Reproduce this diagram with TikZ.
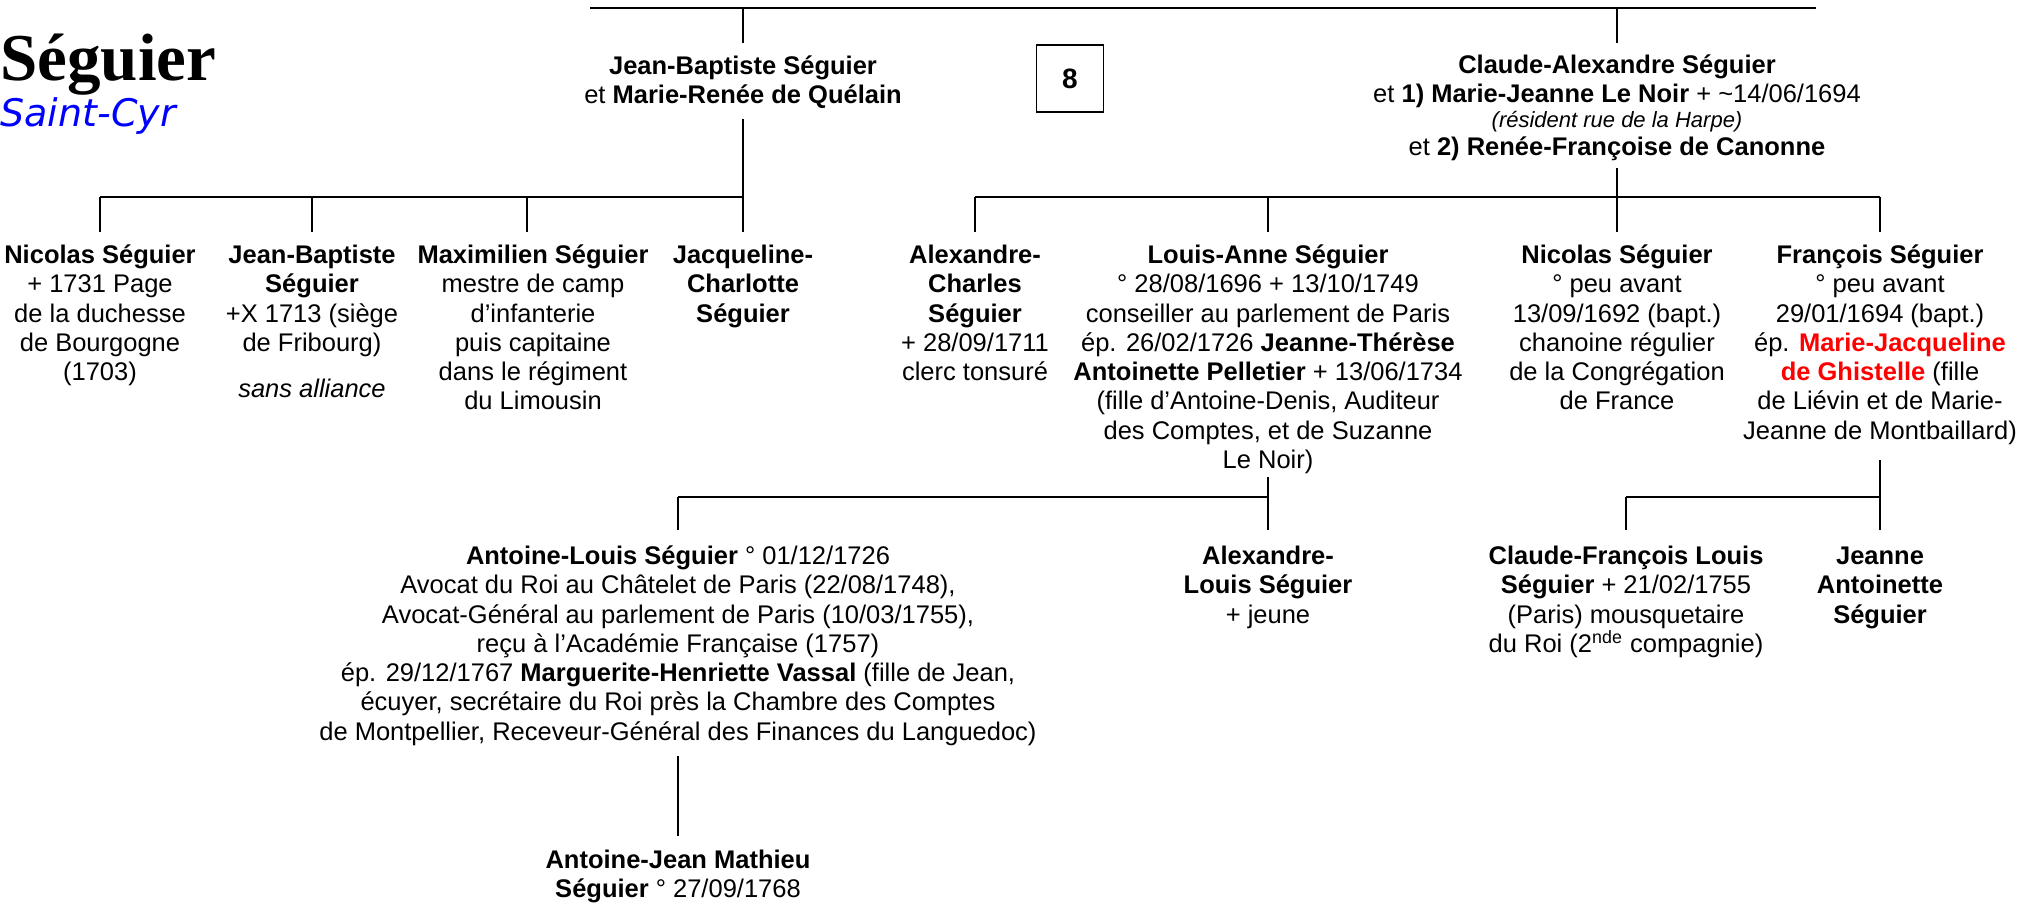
\documentclass[tikz,border=0pt]{standalone}
\usepackage{fontspec}
\setmainfont{Liberation Sans}
\newfontfamily\titlefont{Liberation Serif}
\newfontfamily\subfont{DejaVu Sans}
\newcommand\fl{\rule{0pt}{10pt}}
\begin{document}
\begin{tikzpicture}[x=0.5pt,y=-0.5pt,
  txt/.style={font=\fontsize{12.75}{14.65}\selectfont, align=center, inner sep=0pt, anchor=north},
  conn/.style={line width=1.2pt, black},
  numbox/.style={draw, line width=0.6pt, minimum width=33.5pt, minimum height=33.5pt, inner sep=0pt,
    font=\bfseries\fontsize{14}{14}\selectfont}]
\useasboundingbox (0,0) rectangle (2032,902);

% title
\node[anchor=base west, inner sep=0pt, font=\titlefont\bfseries\fontsize{33.5}{33.5}\selectfont] (title) at (0,80) {Séguier};
\node[anchor=base west, inner sep=0pt, font=\subfont\itshape\fontsize{19}{19}\selectfont, text=blue] (sub) at (0,126) {Saint-Cyr};

% levels
\coordinate (topL) at (590,8);
\coordinate (topR) at (1816,8);
\coordinate (t1) at (0,43);
\coordinate (p1) at (0,119);
\coordinate (p2) at (0,168);
\coordinate (b1) at (0,197);
\coordinate (c1) at (0,232);
\coordinate (q1) at (0,477);
\coordinate (q2) at (0,460);
\coordinate (b2) at (0,497);
\coordinate (c2) at (0,530);
\coordinate (r1) at (0,756);
\coordinate (r2) at (0,836);
\coordinate (A3v) at (527,0);

% parents
\node[txt] (JB) at (743,54) {\fl\textbf{Jean-Baptiste Séguier}\\ et \textbf{Marie-Renée de Quélain}};
\node[txt] (CA) at (1617,53) {\fl\textbf{Claude-Alexandre Séguier}\\
  et \textbf{1) Marie-Jeanne Le Noir} + \textasciitilde 14/06/1694\\[-2.15pt]
  {\fontsize{11}{12}\selectfont\itshape (résident rue de la Harpe)}\\[-0.65pt]
  et \textbf{2) Renée-Françoise de Canonne}};
\node[numbox] (N8) at (1070,78.5) {8};

% first generation, left
\node[txt] (A1) at (100,243) {\fl\textbf{Nicolas Séguier}\\ + 1731 Page\\ de la duchesse\\ de Bourgogne\\ (1703)};
\node[txt] (A2) at (312,243) {\fl\textbf{Jean-Baptiste}\\ \textbf{Séguier}\\ +X 1713 (siège\\ de Fribourg)\\[8.5pt] \textit{sans alliance}};
\node[txt] (A3) at (533,243) {\fl\textbf{Maximilien Séguier}\\ mestre de camp\\ d’infanterie\\ puis capitaine\\ dans le régiment\\ du Limousin};
\node[txt] (A4) at (743,243) {\fl\textbf{Jacqueline-}\\ \textbf{Charlotte}\\ \textbf{Séguier}};

% first generation, right
\node[txt] (B1) at (975,243) {\fl\textbf{Alexandre-}\\ \textbf{Charles}\\ \textbf{Séguier}\\ + 28/09/1711\\ clerc tonsuré};
\node[txt] (B2) at (1268,243) {\fl\textbf{Louis-Anne Séguier}\\ ° 28/08/1696 + 13/10/1749\\ conseiller au parlement de Paris\\ ép. 26/02/1726 \textbf{Jeanne-Thérèse}\\ \textbf{Antoinette Pelletier} + 13/06/1734\\ (fille d’Antoine-Denis, Auditeur\\ des Comptes, et de Suzanne\\ Le Noir)};
\node[txt] (B3) at (1617,243) {\fl\textbf{Nicolas Séguier}\\ ° peu avant\\ 13/09/1692 (bapt.)\\ chanoine régulier\\ de la Congrégation\\ de France};
\node[txt] (B4) at (1880,243) {\fl\textbf{François Séguier}\\ ° peu avant\\ 29/01/1694 (bapt.)\\ ép. \textbf{\color{red}Marie-Jacqueline}\\ \textbf{\color{red}de Ghistelle} (fille\\ de Liévin et de Marie-\\ Jeanne de Montbaillard)};

% second generation
\node[txt] (C1) at (678,544) {\fl\textbf{Antoine-Louis Séguier} ° 01/12/1726\\ Avocat du Roi au Châtelet de Paris (22/08/1748),\\ Avocat-Général au parlement de Paris (10/03/1755),\\ reçu à l’Académie Française (1757)\\ ép. 29/12/1767 \textbf{Marguerite-Henriette Vassal} (fille de Jean,\\ écuyer, secrétaire du Roi près la Chambre des Comptes\\ de Montpellier, Receveur-Général des Finances du Languedoc)};
\node[txt] (C2) at (1268,544) {\fl\textbf{Alexandre-}\\ \textbf{Louis Séguier}\\ + jeune};
\node[txt] (E1) at (1626,544) {\fl\textbf{Claude-François Louis}\\ \textbf{Séguier} + 21/02/1755\\ (Paris) mousquetaire\\ du Roi (2\textsuperscript{nde} compagnie)};
\node[txt] (E2) at (1880,544) {\fl\textbf{Jeanne}\\ \textbf{Antoinette}\\ \textbf{Séguier}};

% third generation
\node[txt] (D1) at (678,848) {\fl\textbf{Antoine-Jean Mathieu}\\ \textbf{Séguier} ° 27/09/1768};

% connectors
\draw[conn] (topL) -- (topR);
\draw[conn] (JB |- topL) -- (JB |- t1);
\draw[conn] (CA |- topL) -- (CA |- t1);
\draw[conn] (JB |- p1) -- (JB |- b1);
\draw[conn] (CA |- p2) -- (CA |- b1);
\draw[conn] (A1 |- b1) -- (JB |- b1);
\draw[conn] (B1 |- b1) -- (B4 |- b1);
\foreach \n in {A1,A2,A4,B1,B2,B3,B4} \draw[conn] (\n |- b1) -- (\n |- c1);
\draw[conn] (A3v |- b1) -- (A3v |- c1);
\draw[conn] (B2 |- q1) -- (C2 |- c2);
\draw[conn] (C1 |- b2) -- (B2 |- b2);
\draw[conn] (C1 |- b2) -- (C1 |- c2);
\draw[conn] (B4 |- q2) -- (E2 |- c2);
\draw[conn] (E1 |- b2) -- (B4 |- b2);
\draw[conn] (E1 |- b2) -- (E1 |- c2);
\draw[conn] (C1 |- r1) -- (D1 |- r2);
\end{tikzpicture}
\end{document}
